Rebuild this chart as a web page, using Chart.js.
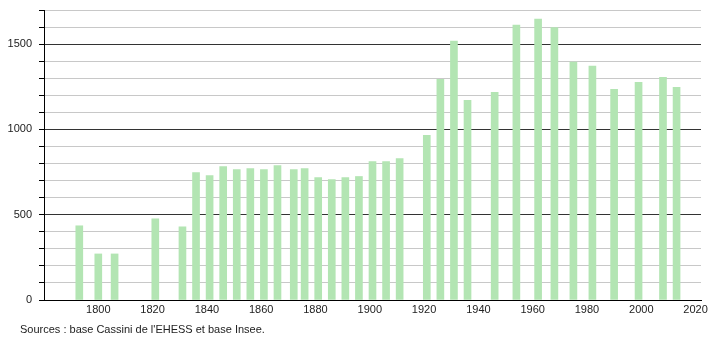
<!DOCTYPE html>
<html>
<head>
<meta charset="utf-8">
<script src="https://cdn.jsdelivr.net/npm/chart.js@4/dist/chart.umd.min.js"></script>
<style>
  html, body { margin: 0; padding: 0; background: #fff; }
  #wrap { position: relative; width: 710px; height: 340px; }
  #src {
    position: absolute; left: 20px; top: 323px;
    font: 11px "Liberation Sans", Arial, sans-serif; color: #222;
  }
</style>
</head>
<body>
<div id="wrap">
  <canvas id="pop" width="710" height="340"></canvas>
  <div id="src">Sources : base Cassini de l'EHESS et base Insee.</div>
</div>
<script>
// années de recensement et population
const years = [1793, 1800, 1806, 1821, 1831, 1836, 1841, 1846, 1851, 1856,
  1861, 1866, 1872, 1876, 1881, 1886, 1891, 1896, 1901, 1906,
  1911, 1921, 1926, 1931, 1936, 1946, 1954, 1962, 1968, 1975,
  1982, 1990, 1999, 2008, 2013];
const pop = [435, 270, 270, 476, 429, 747, 729, 782, 765, 771,
  765, 788, 765, 771, 718, 706, 718, 724, 812, 812,
  829, 965, 1294, 1518, 1171, 1218, 1612, 1647, 1597, 1394,
  1371, 1235, 1276, 1306, 1247];
const xTicks = [1800, 1820, 1840, 1860, 1880, 1900, 1920, 1940, 1960, 1980, 2000, 2020];
const yLabels = [0, 500, 1000, 1500];

const FONT = { family: "'Liberation Sans', Arial, sans-serif", size: 11 };

new Chart(document.getElementById("pop"), {
  type: "bar",
  data: {
    datasets: [{
      data: years.map((y, i) => ({ x: y, y: pop[i] })),
      backgroundColor: "#b3e5b3",
      borderWidth: 0,
      barThickness: 7,
    }],
  },
  options: {
    responsive: false,
    animation: false,
    layout: { padding: { top: 10, right: 9, left: 0, bottom: 0 } },
    plugins: { legend: { display: false }, tooltip: { enabled: false } },
    scales: {
      x: {
        type: "linear",
        offset: false,
        min: 1780,
        max: 2022,
        afterBuildTicks: (s) => { s.ticks = xTicks.map((v) => ({ value: v })); },
        afterFit: (s) => { s.height = 40; s.paddingLeft = 0; s.paddingRight = 0; },
        grid: { display: false, drawTicks: false, offset: false },
        border: { display: true, color: "#000", width: 1 },
        ticks: {
          color: "#222", font: FONT, padding: 3, maxRotation: 0, autoSkip: false,
          callback: (v) => String(v),
        },
      },
      y: {
        min: 0,
        max: 1700,
        afterFit: (s) => { s.width = 44; s.paddingTop = 0; s.paddingBottom = 0; },
        ticks: {
          stepSize: 100,
          color: "#222",
          font: FONT,
          padding: 7,
          callback: (v) => (yLabels.includes(v) ? String(v) : ""),
        },
        grid: {
          color: (c) => (c.tick.value % 500 === 0 ? "#333" : "#c8c8c8"),
          tickColor: "#000",
          tickLength: 5,
          lineWidth: 1,
        },
        border: { display: true, color: "#000", width: 1 },
      },
    },
  },
});
</script>
</body>
</html>
